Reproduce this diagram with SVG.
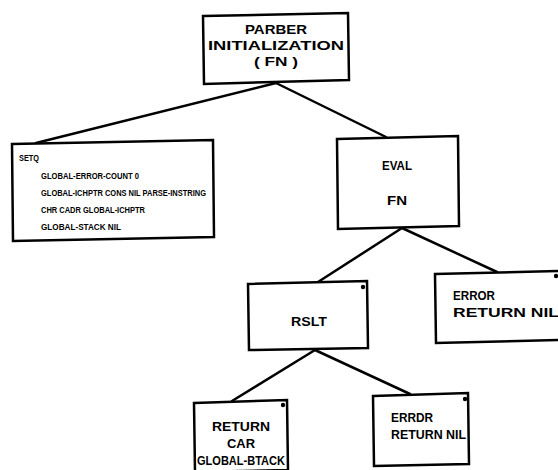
<svg xmlns="http://www.w3.org/2000/svg" width="558" height="470" viewBox="0 0 558 470">
<style>
.box{fill:#fff;stroke:#000;stroke-width:2.5;stroke-linejoin:miter}
.ln{fill:none;stroke:#000;stroke-width:2.5;stroke-linecap:round}
.t{font-family:"Liberation Sans",Arial,sans-serif;font-weight:bold;font-size:12px;fill:#000}
.s{font-family:"Liberation Sans",Arial,sans-serif;font-weight:bold;font-size:9.5px;fill:#000}
.c{text-anchor:middle}
</style>
<rect width="558" height="470" fill="#fff"/>
<g id="connectors">
<path class="ln" d="M276,83 L36,143"/>
<path class="ln" d="M276,83 L386,137"/>
<path class="ln" d="M402,228 L318,282"/>
<path class="ln" d="M402,228 L497,272"/>
<path class="ln" d="M315,350 L232,401"/>
<path class="ln" d="M315,350 L410,394"/>
</g>
<g id="parser-init">
<path class="box" d="M203,16 L348,13 L349,80 L204,84 Z"/>
<text class="t c" x="276" y="34" textLength="62" lengthAdjust="spacingAndGlyphs">PARBER</text>
<text class="t c" x="276" y="50" textLength="136" lengthAdjust="spacingAndGlyphs">INITIALIZATION</text>
<text class="t c" x="276" y="66" textLength="44" lengthAdjust="spacingAndGlyphs">( FN )</text>
</g>
<g id="setq">
<path class="box" d="M12,144 L213,140 L214,237 L13,241 Z"/>
<text class="s" x="19" y="161" textLength="20" lengthAdjust="spacingAndGlyphs">SETQ</text>
<text class="s" x="41" y="179" textLength="98" lengthAdjust="spacingAndGlyphs">GLOBAL-ERROR-COUNT 0</text>
<text class="s" x="41" y="196" textLength="165" lengthAdjust="spacingAndGlyphs">GLOBAL-ICHPTR CONS NIL PARSE-INSTRING</text>
<text class="s" x="41" y="213" textLength="104" lengthAdjust="spacingAndGlyphs">CHR CADR GLOBAL-ICHPTR</text>
<text class="s" x="41" y="230" textLength="80" lengthAdjust="spacingAndGlyphs">GLOBAL-STACK NIL</text>
</g>
<g id="eval-fn">
<path class="box" d="M337,139 L458,136 L459,226 L338,229 Z"/>
<text class="t c" x="397" y="170" textLength="30" lengthAdjust="spacingAndGlyphs">EVAL</text>
<text class="t c" x="397" y="205" textLength="20" lengthAdjust="spacingAndGlyphs">FN</text>
</g>
<g id="rslt">
<path class="box" d="M248,284 L367,281 L368,348 L249,350 Z"/>
<circle cx="363" cy="287" r="2.2" fill="#000"/>
<text class="t c" x="309" y="326" textLength="36" lengthAdjust="spacingAndGlyphs">RSLT</text>
</g>
<g id="error-1">
<path class="box" d="M435,274 L560,271 L560,340 L436,343 Z"/>
<circle cx="556" cy="276" r="2.2" fill="#000"/>
<text class="t" x="453" y="300" textLength="42" lengthAdjust="spacingAndGlyphs">ERROR</text>
<text class="t" x="453" y="317" textLength="106" lengthAdjust="spacingAndGlyphs">RETURN NIL</text>
</g>
<g id="return-car">
<path class="box" d="M194,403 L287,400 L288,470 L195,472 Z"/>
<circle cx="283" cy="405" r="2.2" fill="#000"/>
<text class="t c" x="241" y="431" textLength="58" lengthAdjust="spacingAndGlyphs">RETURN</text>
<text class="t c" x="241" y="448" textLength="28" lengthAdjust="spacingAndGlyphs">CAR</text>
<text class="t c" x="241" y="465" textLength="88" lengthAdjust="spacingAndGlyphs">GLOBAL-BTACK</text>
</g>
<g id="error-2">
<path class="box" d="M373,396 L468,393 L469,464 L374,466 Z"/>
<circle cx="465" cy="399" r="2.2" fill="#000"/>
<text class="t" x="391" y="422" textLength="42" lengthAdjust="spacingAndGlyphs">ERRDR</text>
<text class="t" x="391" y="439" textLength="75" lengthAdjust="spacingAndGlyphs">RETURN NIL</text>
</g>
</svg>
